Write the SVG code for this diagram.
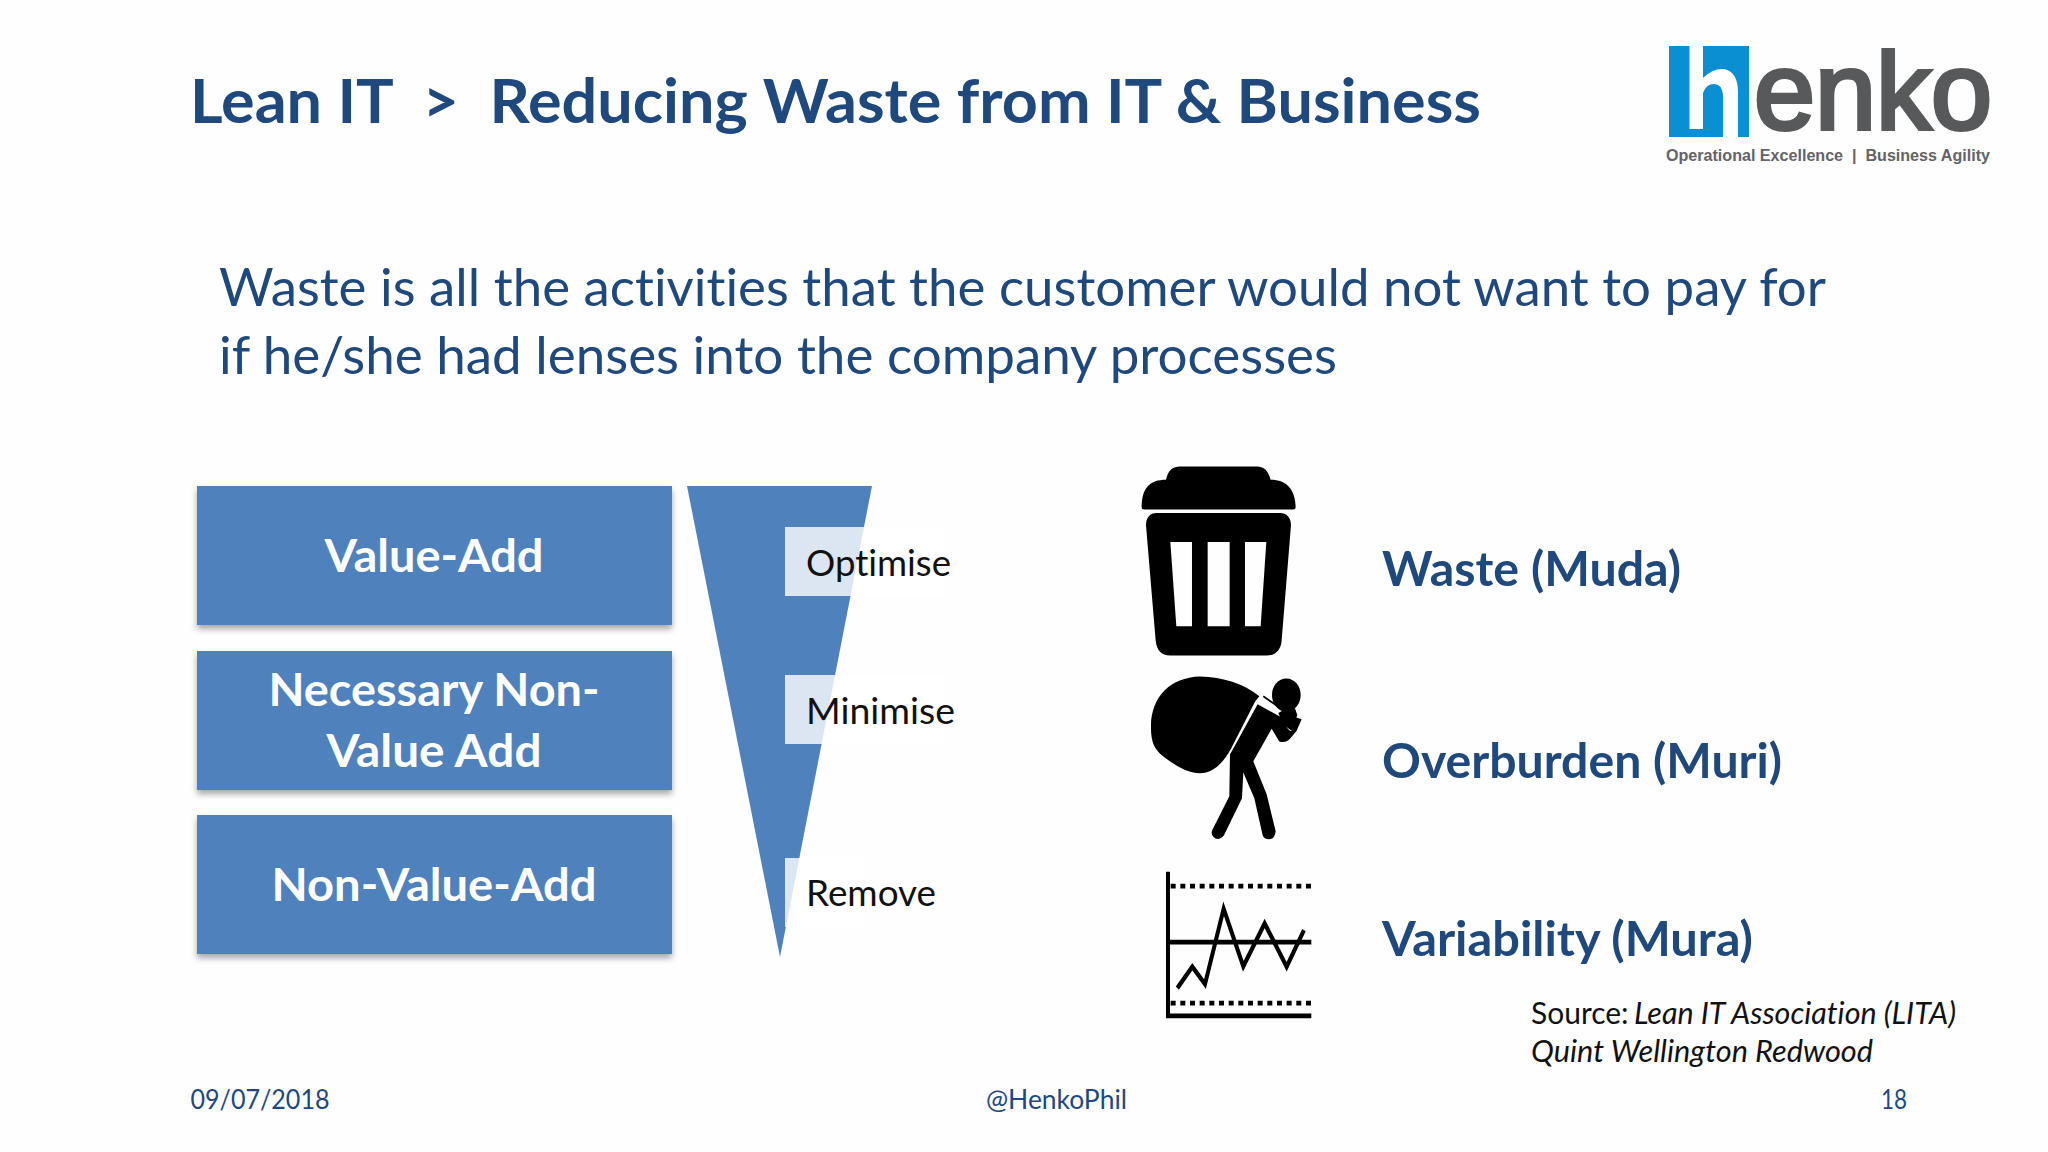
<svg xmlns="http://www.w3.org/2000/svg" width="2048" height="1152" viewBox="0 0 2048 1152">
<defs>
<style>
text{font-family:Lato,"Liberation Sans",sans-serif;font-variant-ligatures:none}
.title{font-size:62px;font-weight:700;fill:#1f497d}
.lead{font-size:53px;fill:#1f497d}
.box{fill:#4f81bd}
.bt{font-size:46px;font-weight:700;fill:#fff;text-anchor:middle}
.step{font-size:37px;fill:#111}
.lab{font-size:48px;font-weight:700;fill:#1f497d}
.src{font-size:30px;fill:#111}
.foot{font-size:27px;fill:#1f497d}
.lt{fill:#fff;fill-opacity:.8}
</style>
<filter id="sh" x="-5%" y="-10%" width="110%" height="125%"><feDropShadow dx="0" dy="4" stdDeviation="3" flood-color="#000" flood-opacity=".35"/></filter>
</defs>
<rect width="2048" height="1152" fill="#fefefe"/>
<g id="title"><text class="title" x="190" y="123" textLength="1291" lengthAdjust="spacingAndGlyphs" xml:space="preserve">Lean IT  &gt;  Reducing Waste from IT &amp; Business</text></g>
<g id="logo">
<rect x="1669" y="46" width="80" height="91" fill="#0a8fd3"/>
<path d="M1689.500 46H1703V78Q1713 68 1724 69Q1738 72 1738 92V137H1723V95Q1722 84 1714 84Q1706 84 1703 93V129H1689.500Z" fill="#fff"/>
<text x="1754" y="129" font-size="110" fill="#58595b" stroke="#58595b" stroke-width="4" style="font-family:'Liberation Sans',sans-serif" textLength="238" lengthAdjust="spacingAndGlyphs">enko</text>
<text x="1666" y="161" font-size="16" font-weight="700" fill="#636466" style="font-family:'Liberation Sans',sans-serif" textLength="324" lengthAdjust="spacingAndGlyphs" xml:space="preserve">Operational Excellence  |  Business Agility</text>
</g>
<g id="lead">
<text class="lead" x="219" y="305.500" textLength="1607" lengthAdjust="spacingAndGlyphs">Waste is all the activities that the customer would not want to pay for</text>
<text class="lead" x="219" y="373.500" textLength="1118" lengthAdjust="spacingAndGlyphs">if he/she had lenses into the company processes</text>
</g>
<g id="value-add"><rect class="box" x="197" y="486" width="475" height="139" filter="url(#sh)"/><text class="bt" x="434" y="572" textLength="219" lengthAdjust="spacingAndGlyphs">Value-Add</text></g>
<g id="necessary"><rect class="box" x="197" y="651" width="475" height="139" filter="url(#sh)"/><text class="bt" x="434" y="706" textLength="331" lengthAdjust="spacingAndGlyphs">Necessary Non-</text><text class="bt" x="434" y="767" textLength="215" lengthAdjust="spacingAndGlyphs">Value Add</text></g>
<g id="non-value-add"><rect class="box" x="197" y="815" width="475" height="139" filter="url(#sh)"/><text class="bt" x="434" y="901" textLength="325" lengthAdjust="spacingAndGlyphs">Non-Value-Add</text></g>
<g id="funnel">
<path d="M687 486H872L780 957Z" class="box"/>
<rect class="lt" x="785" y="527" width="160" height="69"/>
<rect class="lt" x="785" y="675" width="160" height="69"/>
<rect class="lt" x="785" y="858" width="80" height="69"/>
<text class="step" x="806" y="576" textLength="145" lengthAdjust="spacingAndGlyphs">Optimise</text>
<text class="step" x="806" y="724" textLength="149" lengthAdjust="spacingAndGlyphs">Minimise</text>
<text class="step" x="806" y="906" textLength="130" lengthAdjust="spacingAndGlyphs">Remove</text>
</g>
<g id="waste-icon" transform="translate(1100,440) scale(.3333,.397)">
<path d="M125 170C125 120 150 100 198 100C205 75 220 67 240 67H470C495 67 505 80 512 100C560 100 587 125 587 170Q587 175 580 175H132Q125 175 125 170Z"/>
<path fill-rule="evenodd" d="M138 215C138 195 150 184 170 184H540C560 184 573 195 573 215L545 505C543 530 525 543 500 543H210C185 543 170 530 167 505ZM211 257H276V469H229ZM323 257H389V469H323ZM435 257H499L482 469H435Z"/>
</g>
<g id="muri-icon" transform="translate(1100,439) scale(.3333,.397)">
<ellipse cx="559" cy="645" rx="43" ry="42"/>
<path d="M153 720C155 650 210 600 300 598C370 600 430 615 478 648L465 662L393 780C370 815 340 842 300 842C260 840 230 825 190 800C160 780 152 760 153 720Z"/>
<path d="M473 668L548 703C552 720 570 740 575 735L585 700L605 706L590 735L575 750Q560 768 538 762L515 730L460 812L500 895L527 988Q525 1008 507 1008Q492 1008 488 998L463 905L430 840L426 905L372 998Q355 1015 340 1002Q330 992 340 980L388 900L390 795Z"/>
<path d="M535 690L560 678H585L592 695L575 735L550 720Z"/>
<path d="M490 648L548 682" fill="none" stroke="#000" stroke-width="5"/>
</g>
<g id="mura-icon" transform="translate(1100,437.500) scale(.3333,.397)" fill="none" stroke="#000" stroke-width="12">
<path d="M204 1094V1457H634"/>
<path d="M210 1271H634"/>
<path d="M212 1130H634M212 1425H634" stroke-dasharray="15 14"/>
<path d="M232 1387L277 1333L315 1377L371 1187L430 1332L494 1224L560 1333L612 1241"/>
</g>
<g id="labels">
<text class="lab" x="1382" y="585.500" textLength="299" lengthAdjust="spacingAndGlyphs">Waste (Muda)</text>
<text class="lab" x="1382" y="777.500" textLength="400" lengthAdjust="spacingAndGlyphs">Overburden (Muri)</text>
<text class="lab" x="1382" y="956" textLength="371" lengthAdjust="spacingAndGlyphs">Variability (Mura)</text>
</g>
<g id="source">
<text class="src" x="1531" y="1023.500">Source:</text>
<text class="src" x="1634" y="1023.500" font-style="italic" textLength="322" lengthAdjust="spacingAndGlyphs">Lean IT Association (LITA)</text>
<text class="src" x="1531" y="1061.500" font-style="italic" textLength="342" lengthAdjust="spacingAndGlyphs">Quint Wellington Redwood</text>
</g>
<g id="footer">
<text class="foot" x="190.500" y="1108.500" textLength="139" lengthAdjust="spacingAndGlyphs">09/07/2018</text>
<text class="foot" x="986" y="1108.500" textLength="141" lengthAdjust="spacingAndGlyphs">@HenkoPhil</text>
<text class="foot" x="1881" y="1108.500" font-size="25" textLength="26" lengthAdjust="spacingAndGlyphs">18</text>
</g>
</svg>
